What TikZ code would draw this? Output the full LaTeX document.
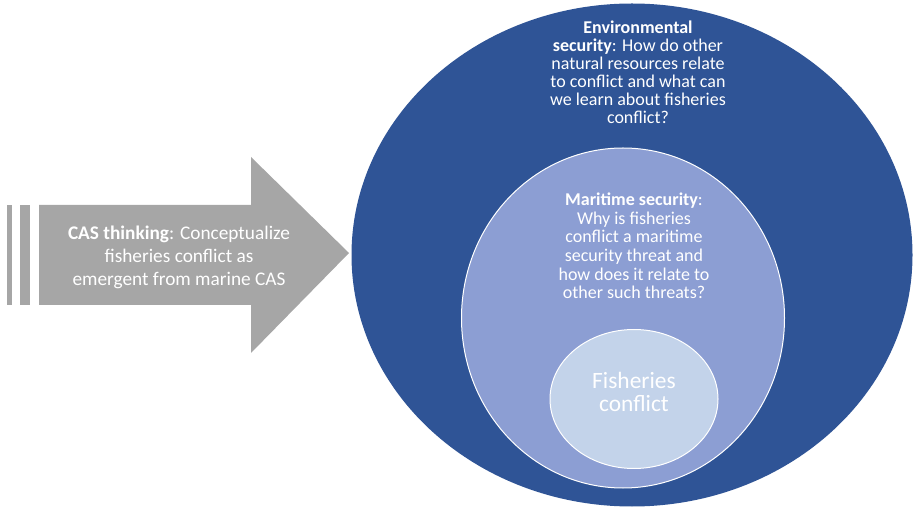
\documentclass[tikz,border=0pt]{standalone}
\usepackage{fontspec}
\setmainfont{Carlito}
\usetikzlibrary{shapes.geometric,positioning}
\definecolor{envCol}{HTML}{2F5496}
\definecolor{marCol}{HTML}{8C9ED3}
\definecolor{fishCol}{HTML}{C3D3EA}
\definecolor{arrCol}{HTML}{A6A6A6}
\tikzset{
  zone/.style={ellipse, draw=white, line width=1pt, inner sep=0pt},
  ztext/.style={text=white, align=center, inner sep=0pt, font=\fontsize{18}{18}\selectfont},
  bar/.style={fill=arrCol},
}

\begin{document}
\begin{tikzpicture}[x=1pt,y=-1pt]
  \useasboundingbox (0,0) rectangle (916,510);
  % CAS arrow with its two trailing bars
  \fill[bar] (7,205) rectangle (12,305);
  \fill[bar] (20,205) rectangle (30,305);
  \fill[arrCol] (39,205) -- (251,205) -- (251,157) -- (349,253) -- (251,353)
                -- (251,305) -- (39,305) -- cycle;
  \node[ztext, font=\fontsize{19.3}{23}\selectfont] (cas) at (179,257)
    {\textbf{CAS thinking}: Conceptualize\\fisheries conflict as\\emergent from marine CAS};

  % nested security zones
  \node[zone, draw=none, fill=envCol, minimum width=561, minimum height=503] (env) at (632,255) {};
  \node[zone, fill=marCol, minimum width=323, minimum height=340] (mar) at (623,318) {};
  \node[zone, fill=fishCol, minimum width=168, minimum height=139] (fish) at (634,399) {};

  \node[ztext] (envtxt) at (638,72)
    {\textbf{Environmental}\\\textbf{security}: How do other\\natural resources relate\\to conflict and what can\\we learn about fisheries\\conflict?};
  \node[ztext, font=\fontsize{18}{18.6}\selectfont] (martxt) at (634,246)
    {\textbf{Maritime security}:\\Why is fisheries\\conflict a maritime\\security threat and\\how does it relate to\\other such threats?};
  \node[ztext, font=\fontsize{23.4}{23}\selectfont] (fishtxt) at (634,392)
    {Fisheries\\conflict};
\end{tikzpicture}
\end{document}
